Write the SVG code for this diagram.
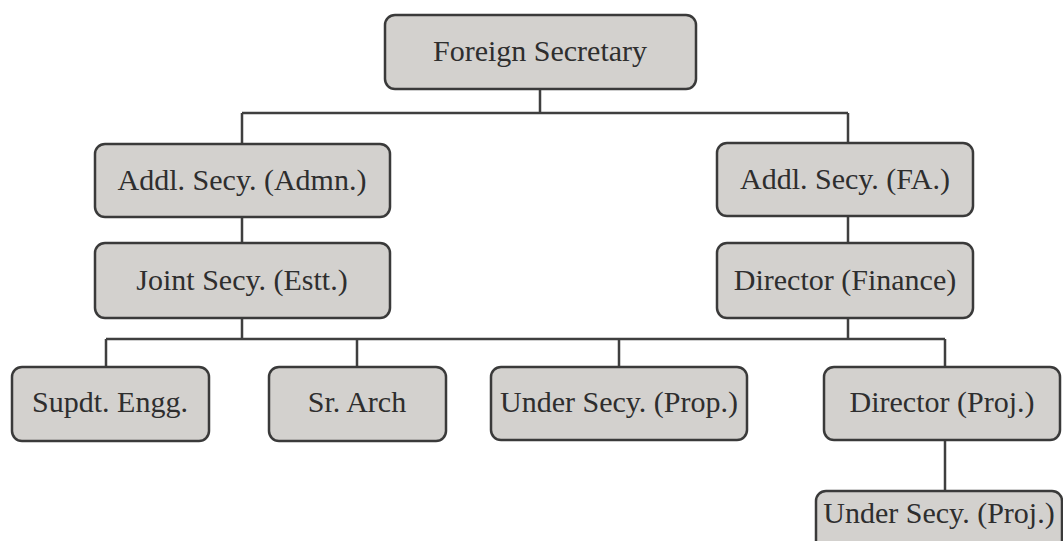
<svg xmlns="http://www.w3.org/2000/svg" width="1063" height="541" viewBox="0 0 1063 541">
<style>
.box{fill:#d3d1ce;stroke:#3a3a3a;stroke-width:2.5}
.lbl{font-family:"Liberation Serif","Times New Roman",serif;font-size:30px;fill:#2e2e2e;text-anchor:middle;dominant-baseline:central}
.con{fill:none;stroke:#3f3f3f;stroke-width:2.5}
</style>
<rect width="1063" height="541" fill="#ffffff"/>
<g id="connectors">
<path class="con" d="M540 89V113M242 113H848M242 113V144M848 113V143"/>
<path class="con" d="M242 217V243M848 216V243"/>
<path class="con" d="M242 318V339M848 318V339M106 339H945M106 339V367M357 339V367M619 339V367M945 339V367"/>
<path class="con" d="M945 440V491"/>
</g>
<g id="n-foreign-secretary"><rect class="box" x="385" y="15" width="311" height="74" rx="10"/><text class="lbl" x="540" y="50">Foreign Secretary</text></g>
<g id="n-addl-admn"><rect class="box" x="95" y="144" width="295" height="73" rx="10"/><text class="lbl" x="242" y="179">Addl. Secy. (Admn.)</text></g>
<g id="n-addl-fa"><rect class="box" x="717" y="143" width="256" height="73" rx="10"/><text class="lbl" x="845" y="178">Addl. Secy. (FA.)</text></g>
<g id="n-joint-estt"><rect class="box" x="95" y="243" width="295" height="75" rx="10"/><text class="lbl" x="242" y="279">Joint Secy. (Estt.)</text></g>
<g id="n-director-finance"><rect class="box" x="717" y="243" width="256" height="75" rx="10"/><text class="lbl" x="845" y="279">Director (Finance)</text></g>
<g id="n-supdt-engg"><rect class="box" x="12" y="367" width="197" height="74" rx="10"/><text class="lbl" x="110" y="401">Supdt. Engg.</text></g>
<g id="n-sr-arch"><rect class="box" x="269" y="367" width="177" height="74" rx="10"/><text class="lbl" x="357" y="401">Sr. Arch</text></g>
<g id="n-under-prop"><rect class="box" x="491" y="367" width="256" height="73" rx="10"/><text class="lbl" x="619" y="401">Under Secy. (Prop.)</text></g>
<g id="n-director-proj"><rect class="box" x="824" y="367" width="236" height="73" rx="10"/><text class="lbl" x="942" y="401">Director (Proj.)</text></g>
<g id="n-under-proj"><rect class="box" x="816" y="491" width="246" height="62" rx="10"/><text class="lbl" x="939" y="512">Under Secy. (Proj.)</text></g>
</svg>
